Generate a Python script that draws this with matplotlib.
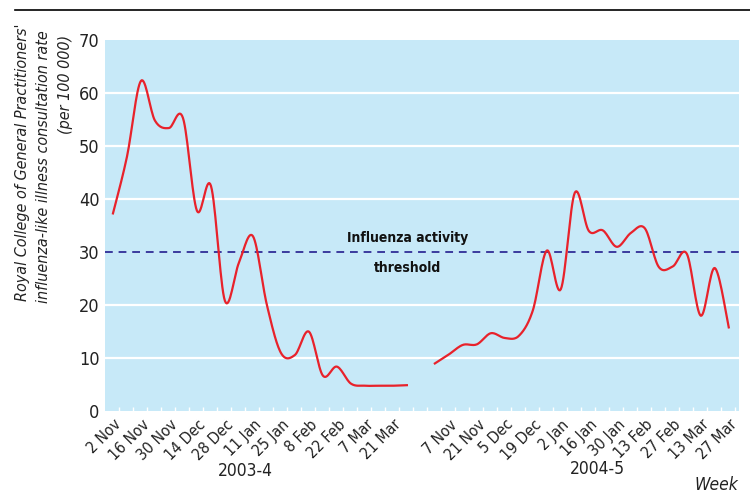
import numpy as np
import matplotlib.pyplot as plt

# police etroite (DejaVu Sans Condensed)
plt.rcParams['font.family'] = ['DejaVu Sans']
plt.rcParams['font.stretch'] = 'condensed'

# Donnees hebdomadaires (taux pour 100 000)
rate_2003 = [37.3, 48.0, 62.3, 54.8, 53.4, 55.3, 37.8, 42.5, 20.8, 28.0, 33.0,
             20.0, 11.0, 10.6, 15.0, 6.7, 8.4, 5.2, 4.8, 4.8, 4.8, 4.9]
rate_2004 = [9.0, 10.7, 12.5, 12.6, 14.7, 13.8, 14.2, 19.0, 30.3, 23.0, 41.2,
             34.0, 34.1, 31.0, 33.6, 34.5, 27.2, 27.3, 29.7, 18.0, 27.0, 15.8]
labels_2003 = ["2 Nov", "16 Nov", "30 Nov", "14 Dec", "28 Dec", "11 Jan",
               "25 Jan", "8 Feb", "22 Feb", "7 Mar", "21 Mar"]
labels_2004 = ["7 Nov", "21 Nov", "5 Dec", "19 Dec", "2 Jan", "16 Jan",
               "30 Jan", "13 Feb", "27 Feb", "13 Mar", "27 Mar"]
threshold = 30

# positions en semaines
start_2004 = 23      # premiere semaine de la 2e saison
label_start_2004 = 24
n_weeks = 45
shift = -0.43        # les points sont legerement avant les graduations


def catmull_rom(x, y, n=16):
    P = np.column_stack([np.asarray(x, float), np.asarray(y, float)])
    P = np.vstack([P[0], P, P[-1]])
    t = np.linspace(0, 1, n, endpoint=False)[:, None]
    out = []
    for i in range(1, len(P) - 2):
        p0, p1, p2, p3 = P[i - 1], P[i], P[i + 1], P[i + 2]
        out.append(0.5 * (2 * p1 + (-p0 + p2) * t
                          + (2 * p0 - 5 * p1 + 4 * p2 - p3) * t**2
                          + (-p0 + 3 * p1 - 3 * p2 + p3) * t**3))
    out.append(P[-2][None, :])
    out = np.vstack(out)
    return out[:, 0], out[:, 1]


fig = plt.figure(figsize=(7.5, 4.93), dpi=100)
ax = fig.add_axes([0.14, 0.166, 0.8453, 0.7528])
ax.set_facecolor('#c7e9f8')
for s in ax.spines.values():
    s.set_visible(False)

for v in [10, 20, 40, 50, 60]:
    ax.axhline(v, color='white', lw=1.6, zorder=1)
ax.axhline(threshold, color='#3b3b9e', lw=1.4, ls=(0, (4, 3)), zorder=2)

x1 = np.arange(len(rate_2003)) + shift
x2 = np.arange(len(rate_2004)) + start_2004 + shift
for xs, ys in [(x1, rate_2003), (x2, rate_2004)]:
    sx, sy = catmull_rom(xs, ys)
    ax.plot(sx, sy, color='#e8222b', lw=1.6, zorder=3)

ax.set_xlim(-1, 44.3)
ax.set_ylim(0, 70)
ax.set_yticks(range(0, 71, 10))
ax.tick_params(axis='y', length=0, labelsize=13, colors='#222222', pad=4)

ax.set_xticks(np.arange(n_weeks), minor=True)
major = list(range(0, 21, 2)) + list(range(label_start_2004, 45, 2))
ax.set_xticks(major)
ax.set_xticklabels(labels_2003 + labels_2004, rotation=45, ha='right', va='center',
                   rotation_mode='anchor', fontsize=11.3, color='#222222')
ax.tick_params(axis='x', which='both', direction='in', length=3, width=1,
               color='white', pad=8)

ax.text(20.6, 31.4, "Influenza activity", ha='center', va='bottom',
        fontsize=10, fontweight='bold', color='#111111')
ax.text(20.6, 28.4, "threshold", ha='center', va='top',
        fontsize=10, fontweight='bold', color='#111111')

# titres
fig.text(0.327, 0.045, "2003-4", ha='center', va='center', fontsize=12.5, color='#222222')
fig.text(0.796, 0.049, "2004-5", ha='center', va='center', fontsize=12.5, color='#222222')
fig.text(0.985, 0.016, "Week", ha='right', va='center', fontsize=12.5,
         style='italic', color='#222222')

fig.text(0.030, 0.670, "Royal College of General Practitioners'", rotation=90,
         ha='center', va='center', fontsize=11.5, style='italic', color='#222222')
fig.text(0.058, 0.663, "influenza-like illness consultation rate", rotation=90,
         ha='center', va='center', fontsize=11.5, style='italic', color='#222222')
fig.text(0.087, 0.829, "(per 100 000)", rotation=90,
         ha='center', va='center', fontsize=11.5, style='italic', color='#222222')

fig.add_artist(plt.Line2D([0.02, 1.0], [0.979, 0.979], color='black', lw=1.2))

fig.savefig("out.png", dpi=100)
